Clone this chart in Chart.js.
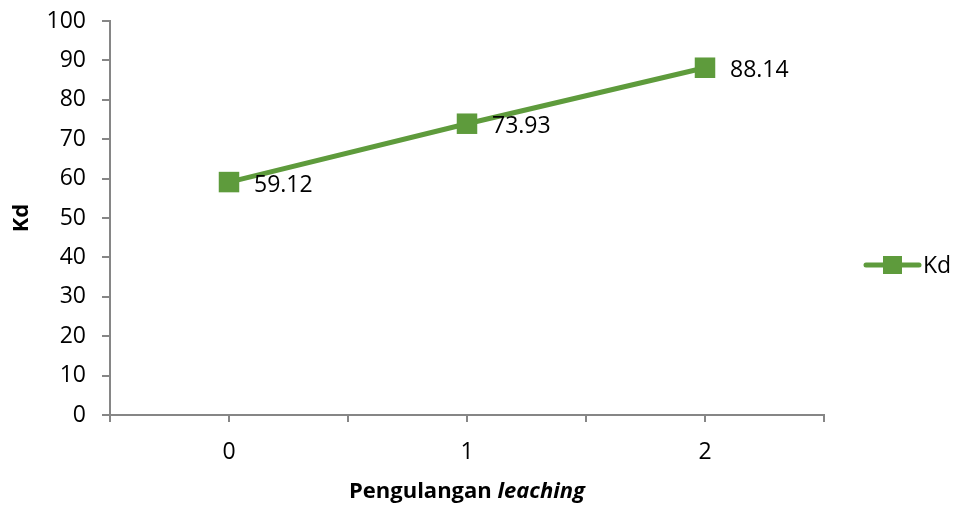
<!DOCTYPE html>
<html>
<head>
<meta charset="utf-8">
<script src="https://cdn.jsdelivr.net/npm/chart.js@4/dist/chart.umd.min.js"></script>
<style>
  html, body { margin: 0; padding: 0; background: #fff; }
  #wrap { width: 955px; height: 507px; position: relative; }
</style>
</head>
<body>
<div id="wrap"><canvas id="c"></canvas></div>
<script>
// Repetitions of leaching and the resulting Kd values
const categories = ['0', '1', '2'];
const kdValues = [59.12, 73.93, 88.14];
const seriesName = 'Kd';
const yTicks = [0, 10, 20, 30, 40, 50, 60, 70, 80, 90, 100];

const green = '#5E9B3C';
const axisGray = '#868686';
const FONT = '"Open Sans", "Noto Sans", sans-serif';

const points = kdValues.map((v, i) => ({ x: i, y: v }));

// value labels to the right of each marker
const valueLabels = {
  id: 'valueLabels',
  afterDatasetsDraw(chart) {
    const ctx = chart.ctx;
    const meta = chart.getDatasetMeta(0);
    ctx.save();
    ctx.font = '23px ' + FONT;
    ctx.fillStyle = '#000';
    ctx.textAlign = 'left';
    ctx.textBaseline = 'middle';
    meta.data.forEach((el, i) => {
      ctx.fillText(kdValues[i].toFixed(2), el.x + 25, el.y + 3);
    });
    ctx.restore();
  }
};

// x axis title with an italic word, and the legend entry at the right
const extras = {
  id: 'extras',
  afterDraw(chart) {
    const ctx = chart.ctx;
    const area = chart.chartArea;
    ctx.save();
    ctx.fillStyle = '#000';
    ctx.textBaseline = 'middle';
    const p1 = 'Pengulangan ';
    const p2 = 'leaching';
    const f1 = 'bold 22px ' + FONT;
    const f2 = 'italic bold 22px ' + FONT;
    ctx.font = f1; const w1 = ctx.measureText(p1).width;
    ctx.font = f2; const w2 = ctx.measureText(p2).width;
    const cx = (area.left + area.right) / 2;
    const x = cx - (w1 + w2) / 2;
    const y = 492;
    ctx.textAlign = 'left';
    ctx.font = f1; ctx.fillText(p1, x, y);
    ctx.font = f2; ctx.fillText(p2, x + w1, y);

    // legend
    const ly = 265;
    ctx.strokeStyle = green;
    ctx.lineWidth = 5;
    ctx.lineCap = 'round';
    ctx.beginPath();
    ctx.moveTo(866, ly);
    ctx.lineTo(919, ly);
    ctx.stroke();
    ctx.fillStyle = green;
    ctx.fillRect(883, ly - 9, 19, 18);
    ctx.fillStyle = '#000';
    ctx.font = '23px ' + FONT;
    ctx.fillText(seriesName, 923, ly + 1);
    ctx.restore();
  }
};

new Chart(document.getElementById('c'), {
  type: 'line',
  data: {
    datasets: [{
      label: seriesName,
      data: points,
      borderColor: green,
      backgroundColor: green,
      borderWidth: 5,
      pointStyle: 'rect',
      pointRadius: 14.5,
      pointHoverRadius: 14.5,
      pointBackgroundColor: green,
      pointBorderColor: green,
      pointBorderWidth: 0,
      tension: 0
    }]
  },
  options: {
    responsive: true,
    maintainAspectRatio: false,
    animation: false,
    events: [],
    layout: { padding: { top: 21, right: 131, left: 0, bottom: 0 } },
    plugins: {
      legend: { display: false },
      tooltip: { enabled: false }
    },
    scales: {
      x: {
        type: 'linear',
        min: -0.5,
        max: 2.5,
        afterBuildTicks(scale) {
          const t = [];
          for (let v = -0.5; v <= 2.5001; v += 0.5) t.push({ value: v });
          scale.ticks = t;
        },
        afterFit(scale) { scale.height = 92; },
        border: { display: true, color: axisGray, width: 2 },
        grid: { drawOnChartArea: false, drawTicks: true, tickLength: 7, color: axisGray, lineWidth: 2 },
        ticks: {
          color: '#000',
          font: { family: FONT, size: 23 },
          padding: 17,
          maxRotation: 0,
          autoSkip: false,
          callback(v) {
            const i = Math.round(v);
            return Math.abs(v - i) < 1e-6 && categories[i] !== undefined ? categories[i] : '';
          }
        }
      },
      y: {
        min: 0,
        max: 100,
        afterBuildTicks(scale) { scale.ticks = yTicks.map(v => ({ value: v })); },
        afterFit(scale) {
          scale.width = 110;
          scale.paddingTop = 0;
          scale.paddingBottom = 0;
        },
        border: { display: true, color: axisGray, width: 2 },
        grid: { drawOnChartArea: false, drawTicks: true, tickLength: 8, color: axisGray, lineWidth: 2 },
        ticks: {
          color: '#000',
          font: { family: FONT, size: 23 },
          padding: 16
        },
        title: {
          display: true,
          text: 'Kd',
          color: '#000',
          font: { family: FONT, size: 22, weight: 'bold' },
          padding: { top: 9, bottom: 0 }
        }
      }
    }
  },
  plugins: [valueLabels, extras]
});
</script>
</body>
</html>
